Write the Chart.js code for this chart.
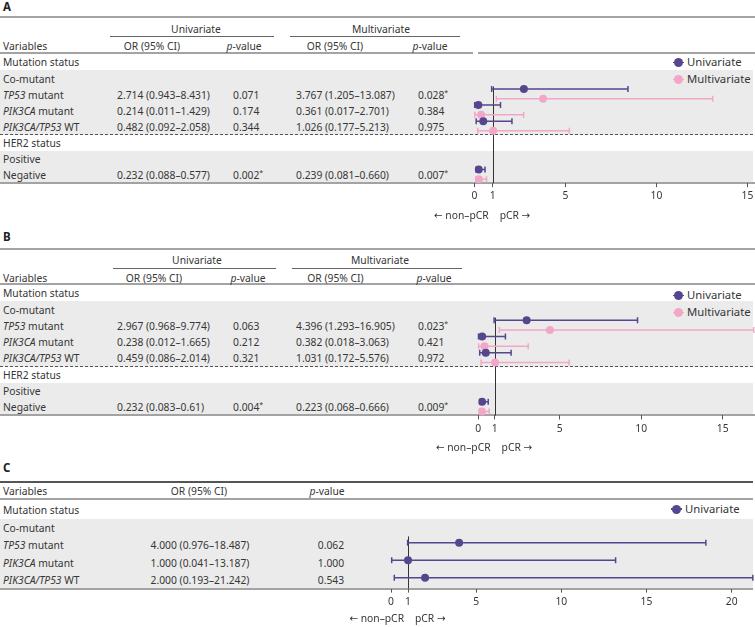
<!DOCTYPE html>
<html><head><meta charset="utf-8">
<script src="https://cdn.jsdelivr.net/npm/chart.js@4.4.0/dist/chart.umd.min.js"></script>
<style>
html,body{margin:0;padding:0;background:#fff;overflow:hidden;}
#root{position:relative;width:755px;height:627px;overflow:hidden;font-family:"Noto Sans","DejaVu Sans",sans-serif;font-size:10.3px;color:#363636;}
.t{position:absolute;white-space:nowrap;height:20px;line-height:20px;}
.t sup{font-size:7px;vertical-align:top;line-height:16px;}
.band{position:absolute;background:#ebebeb;}
.ln{position:absolute;}
canvas{position:absolute;}
</style></head>
<body><div id="root"></div>
<script>
// ================= DATA =================
const rowsAB = ['Mutation status','Co-mutant','TP53 mutant','PIK3CA mutant','PIK3CA/TP53 WT','HER2 status','Positive','Negative'];
const dataRowsAB = ['TP53 mutant','PIK3CA mutant','PIK3CA/TP53 WT','Negative'];
const rowsC = ['Mutation status','Co-mutant','TP53 mutant','PIK3CA mutant','PIK3CA/TP53 WT'];
const dataRowsC = ['TP53 mutant','PIK3CA mutant','PIK3CA/TP53 WT'];
const seriesNames = ['Univariate','Multivariate'];
const headerCols = ['Variables','OR (95% CI)','p-value'];
const axisNote = ['\u2190 non\u2013pCR','pCR \u2192'];

// Panel A
const A_uniOR = [2.714, 0.214, 0.482, 0.232];
const A_uniLo = ['0.943','0.011','0.092','0.088'];
const A_uniHi = ['8.431','1.429','2.058','0.577'];
const A_uniP  = ['0.071','0.174','0.344','0.002*'];
const A_mulOR = [3.767, 0.361, 1.026, 0.239];
const A_mulLo = ['1.205','0.017','0.177','0.081'];
const A_mulHi = ['13.087','2.701','5.213','0.660'];
const A_mulP  = ['0.028*','0.384','0.975','0.007*'];
const A_xTicks = [0,1,5,10,15];
const A_xMax = 15;

// Panel B
const B_uniOR = [2.967, 0.238, 0.459, 0.232];
const B_uniLo = ['0.968','0.012','0.086','0.083'];
const B_uniHi = ['9.774','1.665','2.014','0.61'];
const B_uniP  = ['0.063','0.212','0.321','0.004*'];
const B_mulOR = [4.396, 0.382, 1.031, 0.223];
const B_mulLo = ['1.293','0.018','0.172','0.068'];
const B_mulHi = ['16.905','3.063','5.576','0.666'];
const B_mulP  = ['0.023*','0.421','0.972','0.009*'];
const B_xTicks = [0,1,5,10,15];
const B_xMax = 16.905;

// Panel C
const C_uniOR = [4.000, 1.000, 2.000];
const C_uniLo = ['0.976','0.041','0.193'];
const C_uniHi = ['18.487','13.187','21.242'];
const C_uniP  = ['0.062','1.000','0.543'];
const C_xTicks = [0,1,5,10,15,20];
const C_xMax = 21.242;

// ================= STYLE / LAYOUT =================
const UNI = '#56468e', MUL = '#f3a7c8';
const FONT = "'Noto Sans','DejaVu Sans',sans-serif";
const root = document.getElementById('root');

function el(cls, css, html){ const d=document.createElement('div'); d.className=cls; Object.assign(d.style,css); if(html!=null) d.innerHTML=html; root.appendChild(d); return d; }
function text(html, x, y, align, extra){
  const css={top:(y-10)+'px'};
  if(align==='center'){ css.left=(x-150)+'px'; css.width='300px'; css.textAlign='center'; }
  else css.left=x+'px';
  Object.assign(css, extra||{});
  return el('t', css, html);
}
function hline(x1,x2,y,h,color){ el('ln',{left:x1+'px',width:(x2-x1)+'px',top:(y-h/2)+'px',height:h+'px',background:color}); }
function dline(x1,x2,y){ el('ln',{left:x1+'px',width:(x2-x1)+'px',top:(y-0.5)+'px',height:'1px',background:'repeating-linear-gradient(to right,#555 0 3px,transparent 3px 5px)'}); }
function band(y1,y2){ el('band',{left:'0px',width:'753px',top:y1+'px',height:(y2-y1)+'px'}); }
const ital = s => s.replace(/(PIK3CA\/TP53|PIK3CA|TP53)/g,'<i>$1</i>').replace(/^p-value$/,'<i>p</i>-value');
const pText = s => s.replace(/\*$/,'<sup>*</sup>');
const ciText = (or,lo,hi) => or.map((v,i)=>`${v.toFixed(3)} (${lo[i]}\u2013${hi[i]})`);
function legendItem(name,color,x,y){
  el('ln',{left:(x-5.5)+'px',top:(y-0.75)+'px',width:'11px',height:'1.5px',background:color});
  el('ln',{left:(x-4.5)+'px',top:(y-4.5)+'px',width:'9px',height:'9px',borderRadius:'50%',background:color});
  text(name,x+9,y,'left',{fontSize:'11.3px'});
}

const forestPlugin = {
  id:'forest',
  beforeDatasetsDraw(chart, args, o){
    const {ctx, chartArea} = chart; const x=chart.scales.x, y=chart.scales.y;
    ctx.save();
    const x1 = Math.round(x.getPixelForValue(1))+0.5;
    ctx.strokeStyle='#333'; ctx.lineWidth=1;
    ctx.beginPath(); ctx.moveTo(x1, y.getPixelForValue(o.refFrom)); ctx.lineTo(x1, chartArea.bottom); ctx.stroke();
    chart.data.datasets.forEach(ds=>{
      ctx.strokeStyle=ds.borderColor; ctx.lineWidth=1.5;
      ds.data.forEach(p=>{
        const yy=y.getPixelForValue(p.y), xl=x.getPixelForValue(p.lo), xh=x.getPixelForValue(p.hi);
        ctx.beginPath();
        ctx.moveTo(xl,yy); ctx.lineTo(xh,yy);
        ctx.moveTo(xl,yy-3); ctx.lineTo(xl,yy+3);
        ctx.moveTo(xh,yy-3); ctx.lineTo(xh,yy+3);
        ctx.stroke();
      });
    });
    ctx.restore();
  },
  afterDraw(chart, args, o){
    const {ctx, chartArea} = chart; const x=chart.scales.x;
    const x1=x.getPixelForValue(1), yy=chartArea.bottom+o.labelGap;
    ctx.save(); ctx.font="10.3px "+FONT; ctx.fillStyle='#363636'; ctx.textBaseline='middle';
    ctx.textAlign='right'; ctx.fillText(axisNote[0], x1-4, yy);
    ctx.textAlign='left'; ctx.fillText(axisNote[1], x1+7, yy);
    ctx.restore();
  }
};

function makeChart(cfg){
  const c=document.createElement('canvas');
  c.width=cfg.width; c.height=cfg.height;
  Object.assign(c.style,{left:cfg.left+'px',top:cfg.top+'px',width:cfg.width+'px',height:cfg.height+'px'});
  root.appendChild(c);
  const axisH = cfg.top+cfg.height-cfg.area.bottom;
  new Chart(c,{
    type:'scatter',
    data:{datasets:cfg.series.map(s=>({
      label:s.label, borderColor:s.color, backgroundColor:s.color,
      pointRadius:4, pointHoverRadius:4, borderWidth:0,
      data:s.or.map((v,i)=>({x:v, y:s.rows[i]+s.offset, lo:Number(s.lo[i]), hi:Number(s.hi[i])}))
    }))},
    options:{
      responsive:false, animation:false, devicePixelRatio:1, events:[],
      layout:{padding:{left:cfg.area.left-cfg.left, right:cfg.left+cfg.width-cfg.area.right, top:cfg.area.top-cfg.top, bottom:0}},
      plugins:{legend:{display:false}, tooltip:{enabled:false}, forest:{refFrom:cfg.refFrom, labelGap:cfg.labelGap}},
      scales:{
        x:{type:'linear', min:0, max:cfg.xMax,
           afterBuildTicks:s=>{ s.ticks = cfg.xTicks.map(v=>({value:v})); },
           afterFit:s=>{ s.height = axisH; },
           grid:{drawOnChartArea:false, drawTicks:true, tickLength:4, color:'#555', lineWidth:1},
           border:{display:false},
           ticks:{autoSkip:false, maxRotation:0, padding:3, color:'#363636', font:{family:FONT, size:10.3}}},
        y:{type:'linear', display:false, min:-0.5, max:cfg.nRows-0.5, reverse:true}
      }
    },
    plugins:[forestPlugin]
  });
}

// ================= PANEL A / B builder =================
function panelAB(P){
  const rowY = i => P.row0 + i*P.rowH;
  band(rowY(0.5), rowY(4.5));
  band(rowY(5.5), rowY(7.5));
  hline(0,755,P.topLine,2,'#a3a3a3');
  hline(P.uLine[0],P.uLine[1],P.subLine,1,'#666');
  hline(P.mLine[0],P.mLine[1],P.subLine,1,'#666');
  P.headLine.forEach(seg=>hline(seg[0],seg[1],P.headY,2,'#a3a3a3'));
  dline(0,755,rowY(4.5));
  hline(0,755,rowY(7.5),2,'#a3a3a3');
  text(P.letter,3,P.letterY,'left',{fontWeight:'bold',fontSize:'11.5px',color:'#222'});
  text(seriesNames[0],P.uHead,P.groupY,'center');
  text(seriesNames[1],P.mHead,P.groupY,'center');
  text(headerCols[0],3,P.colY,'left');
  text(headerCols[1],P.c1,P.colY,'center');
  text(ital(headerCols[2]),P.c2,P.colY,'center');
  text(headerCols[1],P.c3,P.colY,'center');
  text(ital(headerCols[2]),P.c4,P.colY,'center');
  rowsAB.forEach((r,i)=>text(ital(r),3,rowY(i),'left'));
  const idx = dataRowsAB.map(r=>rowsAB.indexOf(r));
  const uCI = ciText(P.d.uOR,P.d.uLo,P.d.uHi), mCI = ciText(P.d.mOR,P.d.mLo,P.d.mHi);
  idx.forEach((ri,k)=>{
    text(uCI[k],117,rowY(ri),'left');
    text(pText(P.d.uP[k]),233,rowY(ri),'left');
    text(mCI[k],296,rowY(ri),'left');
    text(pText(P.d.mP[k]),418,rowY(ri),'left');
  });
  legendItem(seriesNames[0],UNI,678,P.leg[0]);
  legendItem(seriesNames[1],MUL,678,P.leg[1]);
  makeChart({left:400, top:P.cTop, width:370, height:200,
    area:{left:P.x0, right:P.xR, top:rowY(-0.5), bottom:rowY(7.5)},
    xMax:P.xMax, xTicks:P.xTicks, nRows:rowsAB.length, refFrom:1.5, labelGap:33,
    series:[
      {label:seriesNames[0], color:UNI, or:P.d.uOR, lo:P.d.uLo, hi:P.d.uHi, rows:idx, offset:-0.35},
      {label:seriesNames[1], color:MUL, or:P.d.mOR, lo:P.d.mLo, hi:P.d.mHi, rows:idx, offset:0.25}
    ]});
}

panelAB({letter:'A', letterY:7, topLine:17, subLine:36, uLine:[110,274], mLine:[290,460],
  groupY:28.5, uHead:196, mHead:381, colY:46, c1:152, c2:244, c3:335, c4:430,
  headY:53, headLine:[[0,473],[478,755]], row0:62.4, rowH:16.1, leg:[62.4,79.3],
  cTop:40, x0:474.5, xR:747.5, xMax:A_xMax, xTicks:A_xTicks,
  d:{uOR:A_uniOR,uLo:A_uniLo,uHi:A_uniHi,uP:A_uniP,mOR:A_mulOR,mLo:A_mulLo,mHi:A_mulHi,mP:A_mulP}});

panelAB({letter:'B', letterY:237, topLine:249, subLine:268, uLine:[113,276], mLine:[292,462],
  groupY:260, uHead:197, mHead:380, colY:278, c1:154, c2:248, c3:335.5, c4:434,
  headY:284, headLine:[[0,755]], row0:293.3, rowH:16.29, leg:[295.3,312.3],
  cTop:270, x0:478.3, xR:753.7, xMax:B_xMax, xTicks:B_xTicks,
  d:{uOR:B_uniOR,uLo:B_uniLo,uHi:B_uniHi,uP:B_uniP,mOR:B_mulOR,mLo:B_mulLo,mHi:B_mulHi,mP:B_mulP}});

// ================= PANEL C =================
(function(){
  const row0=510.3, rowH=17.4, rowY=i=>row0+i*rowH;
  band(rowY(0.5), rowY(4.5));
  hline(0,753,482,1.3,'#555');
  hline(0,753,499,2,'#a3a3a3');
  hline(0,753,rowY(4.5),2,'#a3a3a3');
  text('C',3,468,'left',{fontWeight:'bold',fontSize:'11.5px',color:'#222'});
  text(headerCols[0],3,491,'left');
  text(headerCols[1],199,491,'center');
  text(ital(headerCols[2]),327,491,'center');
  rowsC.forEach((r,i)=>text(ital(r),3,rowY(i),'left'));
  const idx = dataRowsC.map(r=>rowsC.indexOf(r));
  const ci = ciText(C_uniOR,C_uniLo,C_uniHi);
  idx.forEach((ri,k)=>{ text(ci[k],200,rowY(ri),'center'); text(pText(C_uniP[k]),331,rowY(ri),'center'); });
  legendItem(seriesNames[0],UNI,676,509);
  makeChart({left:340, top:490, width:430, height:137,
    area:{left:391, right:752.8, top:rowY(-0.5), bottom:rowY(4.5)},
    xMax:C_xMax, xTicks:C_xTicks, nRows:rowsC.length, refFrom:1.5, labelGap:30,
    series:[{label:seriesNames[0], color:UNI, or:C_uniOR, lo:C_uniLo, hi:C_uniHi, rows:idx, offset:-0.13}]});
})();
</script>
</body></html>
